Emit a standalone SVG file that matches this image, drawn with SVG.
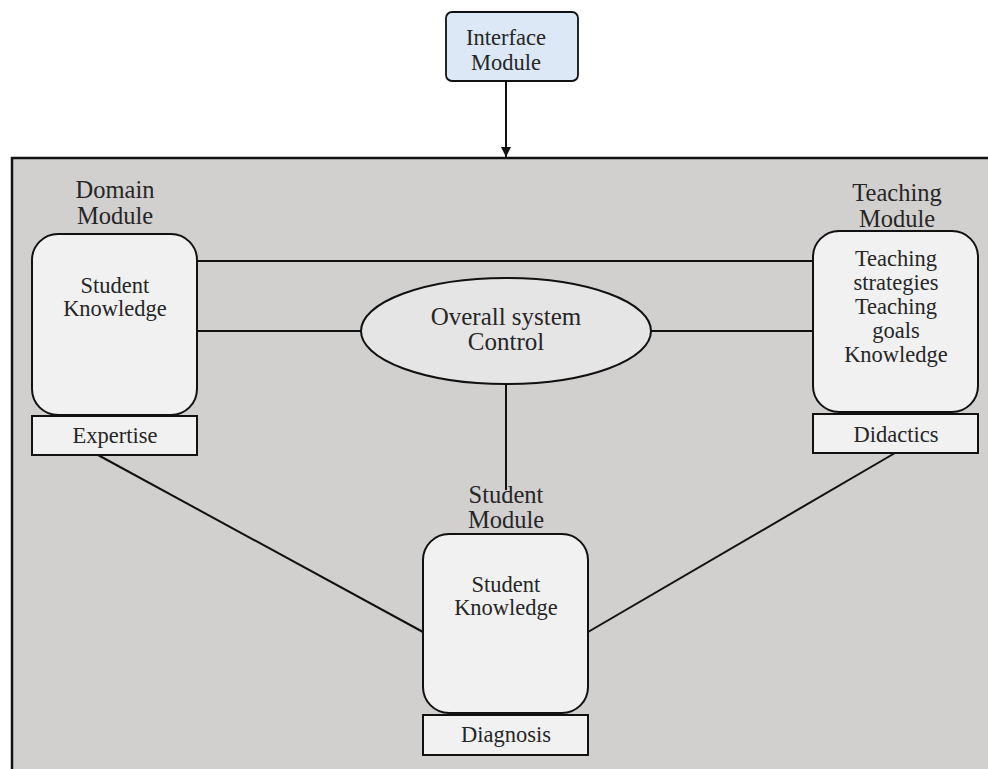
<svg xmlns="http://www.w3.org/2000/svg" width="988" height="769" viewBox="0 0 988 769">
<style>
text{font-family:"Liberation Serif","Times New Roman",serif;fill:#262626;text-anchor:middle}
.t{font-size:22.5px}
.h{font-size:24.5px}
.e{font-size:25px}
.box{fill:#f1f1f1;stroke:#111;stroke-width:2}
.ln{stroke:#111;stroke-width:2;fill:none}
</style>
<defs>
<marker id="arr" markerWidth="12" markerHeight="12" refX="10" refY="5" orient="auto" markerUnits="userSpaceOnUse">
<path d="M0,0 L10,5 L0,10 Z" fill="#111"/>
</marker>
</defs>
<rect x="0" y="0" width="988" height="769" fill="#ffffff"/>
<g id="system">
<rect x="12" y="158" width="990" height="620" fill="#d2cfcf" stroke="#111" stroke-width="2.5"/>
</g>
<g id="connectors">
<line class="ln" x1="506" y1="81" x2="506" y2="157" marker-end="url(#arr)"/>
<line class="ln" x1="197" y1="261" x2="813" y2="261"/>
<line class="ln" x1="197" y1="331" x2="361" y2="331"/>
<line class="ln" x1="651" y1="331" x2="813" y2="331"/>
<line class="ln" x1="506" y1="384" x2="506" y2="490"/>
<line class="ln" x1="98" y1="455" x2="423" y2="632"/>
<line class="ln" x1="895" y1="453" x2="588" y2="632"/>
</g>
<g id="interface">
<rect x="446" y="12" width="132" height="69" rx="6" fill="#dce8f5" stroke="#111" stroke-width="1.8"/>
<text class="t" x="506" y="45">Interface</text>
<text class="t" x="506" y="70">Module</text>
</g>
<g id="domain">
<text class="h" x="115" y="198">Domain</text>
<text class="h" x="115" y="224">Module</text>
<rect class="box" x="32" y="234" width="165" height="181" rx="26"/>
<text class="t" x="115" y="293">Student</text>
<text class="t" x="115" y="316">Knowledge</text>
<rect class="box" x="32" y="416" width="165" height="39"/>
<text class="t" x="115" y="443">Expertise</text>
</g>
<g id="teaching">
<text class="h" x="897" y="201">Teaching</text>
<text class="h" x="897" y="227">Module</text>
<rect class="box" x="813" y="231" width="165" height="181" rx="26"/>
<text class="t" x="896" y="266">Teaching</text>
<text class="t" x="896" y="290">strategies</text>
<text class="t" x="896" y="314">Teaching</text>
<text class="t" x="896" y="338">goals</text>
<text class="t" x="896" y="362">Knowledge</text>
<rect class="box" x="813" y="414" width="165" height="39"/>
<text class="t" x="896" y="442">Didactics</text>
</g>
<g id="control">
<ellipse cx="506" cy="331" rx="145" ry="53" fill="#e6e5e5" stroke="#111" stroke-width="2"/>
<text class="e" x="506" y="325">Overall system</text>
<text class="e" x="506" y="350">Control</text>
</g>
<g id="student">
<text class="h" x="506" y="503">Student</text>
<text class="h" x="506" y="528">Module</text>
<rect class="box" x="423" y="534" width="165" height="179" rx="26"/>
<text class="t" x="506" y="592">Student</text>
<text class="t" x="506" y="615">Knowledge</text>
<rect class="box" x="423" y="715" width="165" height="40"/>
<text class="t" x="506" y="742">Diagnosis</text>
</g>
</svg>
